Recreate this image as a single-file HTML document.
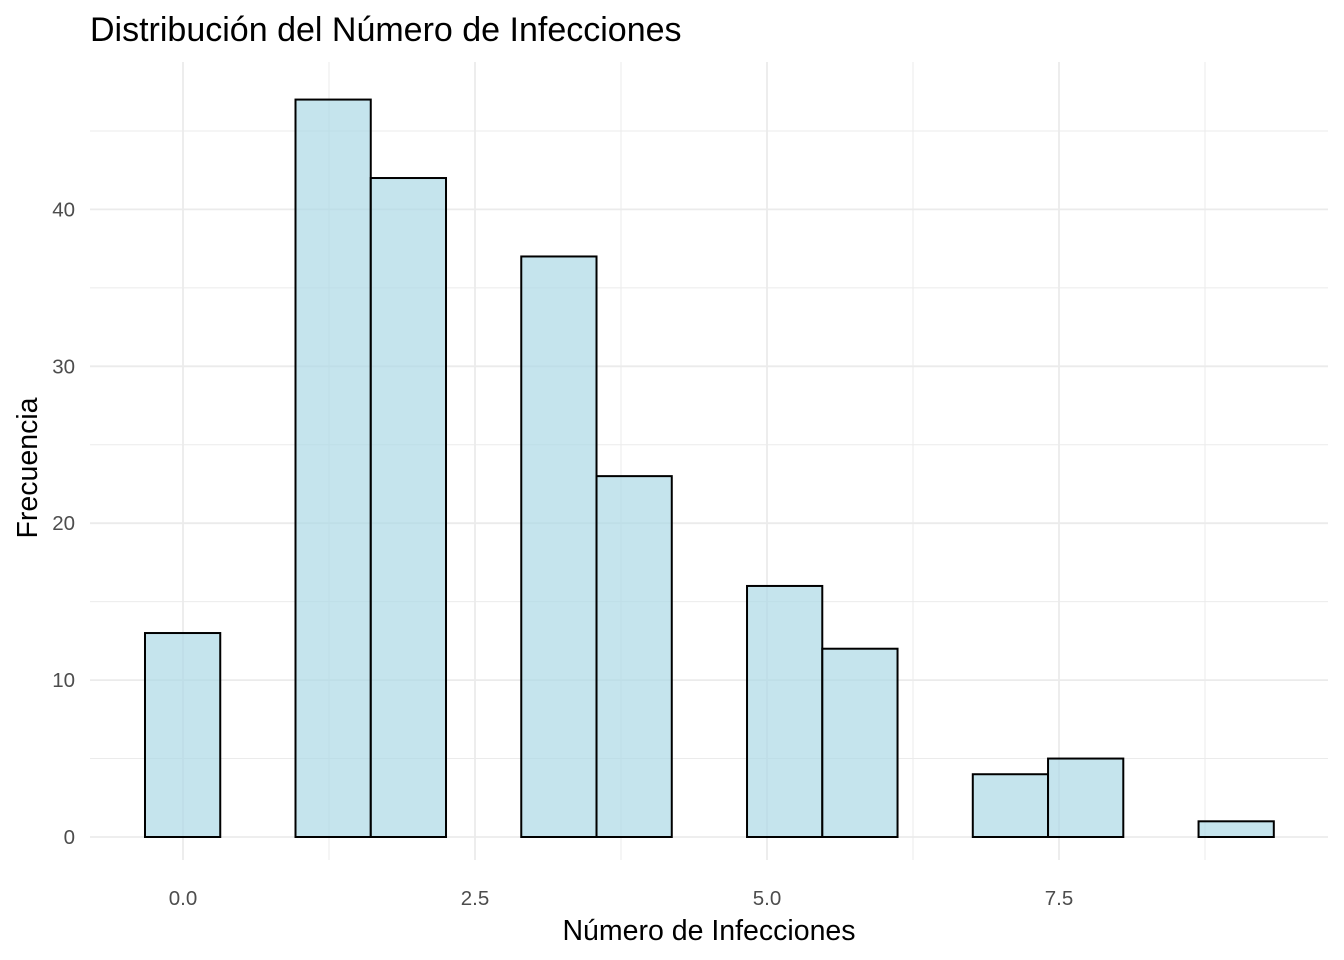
<!DOCTYPE html>
<html><head><meta charset="utf-8"><style>
body{margin:0;background:#fff;}
svg{display:block;font-family:"Liberation Sans",Arial,sans-serif;}
</style></head><body>
<svg id="chart" width="1344" height="960" xmlns="http://www.w3.org/2000/svg">
<text x="90" y="41" font-size="34" fill="#000">Distribución del Número de Infecciones</text>
<g id="grid"></g>
<g id="bars"></g>
<g id="axes"></g>
<text x="709" y="940" font-size="28.5" text-anchor="middle" fill="#000">Número de Infecciones</text>
<text transform="translate(37,468) rotate(-90)" font-size="28.5" text-anchor="middle" fill="#000">Frecuencia</text>
</svg>
<script>
const counts=[13,0,47,42,0,37,23,0,16,12,0,4,5,0,1];
const binStart=-0.3254;
const binWidth=0.6443;
const xTicks=[0,2.5,5,7.5];
const xTickLabels=["0.0","2.5","5.0","7.5"];
const yTicks=[0,10,20,30,40];
const yTickLabels=["0","10","20","30","40"];
const NS="http://www.w3.org/2000/svg";
const X=v=>183+v*116.8;
const Y=v=>837-v*15.69;
const L=90,R=1328,T=62,B=860;
function mk(t,a,p){const e=document.createElementNS(NS,t);for(const k in a)e.setAttribute(k,a[k]);p.appendChild(e);return e;}
const grid=document.getElementById('grid'),bars=document.getElementById('bars'),axes=document.getElementById('axes');
for(let v=0;v<=9;v+=1.25){const minor=Math.abs(v/2.5-Math.round(v/2.5))>0.01;
 const l=mk('line',{x1:X(v),x2:X(v),y1:T,y2:B,stroke:'#ebebeb','stroke-width':minor?1:1.8},grid);
 
 }
for(let v=0;v<=47.5;v+=5){const minor=v%10!==0;
 const l=mk('line',{x1:L,x2:R,y1:Y(v),y2:Y(v),stroke:'#ebebeb','stroke-width':minor?1:1.8},grid);
 
 }
counts.forEach((c,i)=>{const x0=X(binStart+i*binWidth),x1=X(binStart+(i+1)*binWidth);
 const r=mk('rect',{x:x0,y:Y(c),width:x1-x0,height:Y(0)-Y(c),fill:'rgba(173,216,230,0.7)',stroke:'#000','stroke-width':2},bars);
 
 });
xTicks.forEach((v,i)=>{const t=mk('text',{x:X(v),y:905,'font-size':20.5,'text-anchor':'middle',fill:'#4d4d4d'},axes);t.textContent=xTickLabels[i];
 
 });
yTicks.forEach((v,i)=>{const t=mk('text',{x:75,y:Y(v)+7,'font-size':20.5,'text-anchor':'end',fill:'#4d4d4d'},axes);t.textContent=yTickLabels[i];
 
 });
</script>
</body></html>
